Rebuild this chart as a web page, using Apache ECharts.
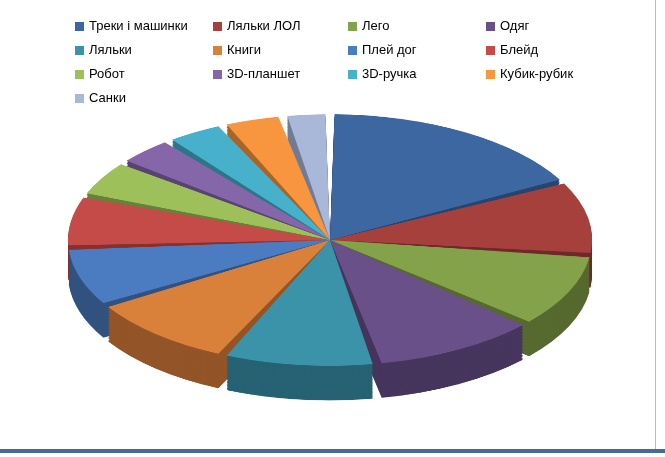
<!DOCTYPE html>
<html><head><meta charset="utf-8">
<script src="https://cdn.jsdelivr.net/npm/echarts@6/dist/echarts.min.js"></script>
<style>
body{margin:0;background:#fff;overflow:hidden;}
#leg{position:absolute;left:0;top:0;width:665px;height:457px;}
#pie{position:absolute;left:0;top:-100px;width:665px;height:800px;transform:scaleY(0.48);transform-origin:0 340px;}
</style></head><body>
<div id="pie"></div><div id="leg"></div>
<script>
const categories=["Треки і машинки","Ляльки ЛОЛ","Лего","Одяг","Ляльки","Книги","Плей дог","Блейд","Робот","3D-планшет","3D-ручка","Кубик-рубик","Санки"];
const values=[18,10,10,11,10,10,8,7,5,4,4,4,3];
const colors=["#3C67A0","#A5403D","#84A24A","#6A5089","#3A93A9","#D9803A","#4B7BC0","#C54B48","#9DC05A","#8566A8","#47B0CA","#F8963F","#A9B8D8"];
const sideColors=["#27456E","#6E2A28","#56692F","#46355C","#266273","#935527","#32527F","#833230","#68803B","#584470","#2F758A","#A8652A","#717D94"];
const cols=[[0,4,8,12],[1,5,9],[2,6,10],[3,7,11]];
const colX=[70,208,343,481];
const pie=echarts.init(document.getElementById('pie'));
function mk(cArr,cy){return {type:'pie',center:[330,cy],radius:[0,262],startAngle:90,clockwise:true,
 padAngle:2,label:{show:false},labelLine:{show:false},silent:true,
 data:categories.map((c,i)=>({name:c,value:values[i],itemStyle:{color:cArr[i]}}))};}
const ser=[];
for(let d=72;d>0;d-=3) ser.push(mk(sideColors,340+d));
ser.push(mk(colors,340));
pie.setOption({animation:false,series:ser});
const leg=echarts.init(document.getElementById('leg'));
leg.setOption({animation:false,
 legend:cols.map((cl,k)=>({orient:'vertical',left:colX[k],top:15,itemWidth:9,itemHeight:9,itemGap:11,icon:'rect',
  textStyle:{fontSize:13,color:'#000',fontFamily:'Liberation Sans'},
  data:cl.map(i=>categories[i])})),
 graphic:[{type:'rect',shape:{x:0,y:449,width:665,height:4},style:{fill:'#4A6A96'}},
  {type:'rect',shape:{x:655,y:0,width:1,height:449},style:{fill:'#bbb'}}],
 series:[{type:'pie',radius:0,data:categories.map((c,i)=>({name:c,value:values[i],itemStyle:{color:colors[i]}})),label:{show:false}}]});
</script></body></html>
